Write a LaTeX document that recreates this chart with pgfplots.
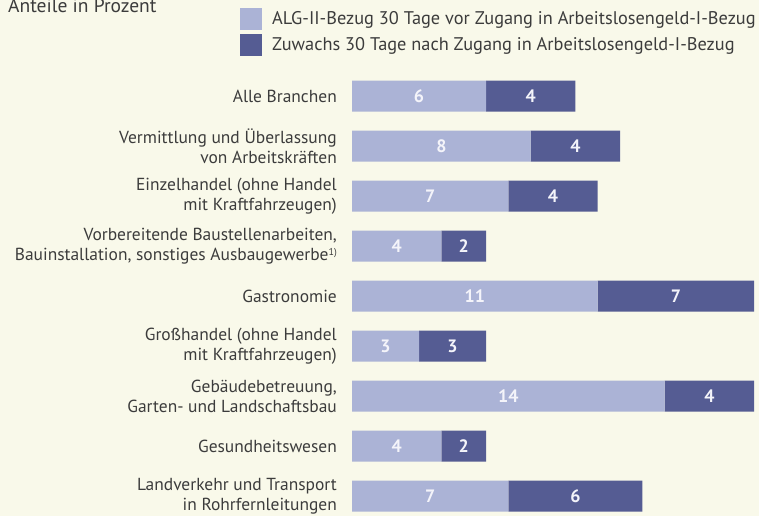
\documentclass[border=0pt]{standalone}
\usepackage{pgfplots}
\pgfplotsset{compat=1.18}
\usepackage{pgfplotstable}
\usepackage{fontspec}
\setmainfont{PT Sans}
\definecolor{bgcol}{HTML}{F9F9EA}
\definecolor{lightbar}{HTML}{ABB3D6}
\definecolor{darkbar}{HTML}{555C93}
\definecolor{txt}{HTML}{3C3C3C}
\definecolor{numcol}{HTML}{F4F4FA}
\pgfplotstableread{
y a b
8 6 4
7 8 4
6 7 4
5 4 2
4 11 7
3 3 3
2 14 4
1 4 2
0 7 6
}\data
\newcommand{\fnsup}[1]{\raisebox{0.6ex}{\fontsize{10}{10}\selectfont #1}}
\begin{document}
\begin{tikzpicture}[x=1bp,y=1bp]
\path[use as bounding box, fill=bgcol] (0,0) rectangle (759,-516);
\begin{axis}[
  at={(352bp,-521bp)}, anchor=south west,
  scale only axis, width=402bp, height=450bp,
  xmin=0, xmax=18, ymin=-0.5, ymax=8.5,
  xbar stacked, bar width=31bp,
  axis line style={draw=none},
  major tick length=0pt,
  xtick=\empty,
  ytick={0,...,8},
  yticklabels={{Landverkehr und Transport\\in Rohrfernleitungen},
    Gesundheitswesen,
    {Gebäudebetreuung,\\Garten- und Landschaftsbau},
    {Großhandel (ohne Handel\\mit Kraftfahrzeugen)},
    Gastronomie,
    {Vorbereitende Baustellenarbeiten,\\Bauinstallation, sonstiges Ausbaugewerbe\fnsup{1)}},
    {Einzelhandel (ohne Handel\\mit Kraftfahrzeugen)},
    {Vermittlung und Überlassung\\von Arbeitskräften},
    Alle Branchen},
  yticklabel style={align=right, font=\fontsize{17.5}{20}\selectfont, text=txt, inner sep=0pt, xshift=-15bp},
  point meta=explicit,
  /pgf/number format/assume math mode=true,
  nodes near coords,
  every node near coord/.append style={font=\fontsize{18}{20}\selectfont\bfseries, text=numcol},
  legend image code/.code={\fill[#1] (0bp,-11bp) rectangle (22bp,11bp);},
  legend style={at={(axis description cs:-0.2786,1.14)}, anchor=north west,
    draw=none, fill=none, inner sep=0pt, row sep=4bp,
    font=\fontsize{18.4}{20}\selectfont, text=txt,
    nodes={inner sep=0pt}, column sep=10bp},
  legend cell align=left,
]
\addplot[fill=lightbar, draw=none] table[x=a, y=y, meta=a] \data;
\addplot[fill=darkbar, draw=none] table[x=b, y=y, meta=b] \data;
\legend{ALG-II-Bezug 30 Tage vor Zugang in Arbeitslosengeld-I-Bezug, Zuwachs 30 Tage nach Zugang in Arbeitslosengeld-I-Bezug}
\end{axis}
\node[anchor=base west, inner sep=0pt, text=txt, font=\fontsize{19.6}{20}\selectfont] at (8,-13) {Anteile in Prozent};
\end{tikzpicture}
\end{document}
